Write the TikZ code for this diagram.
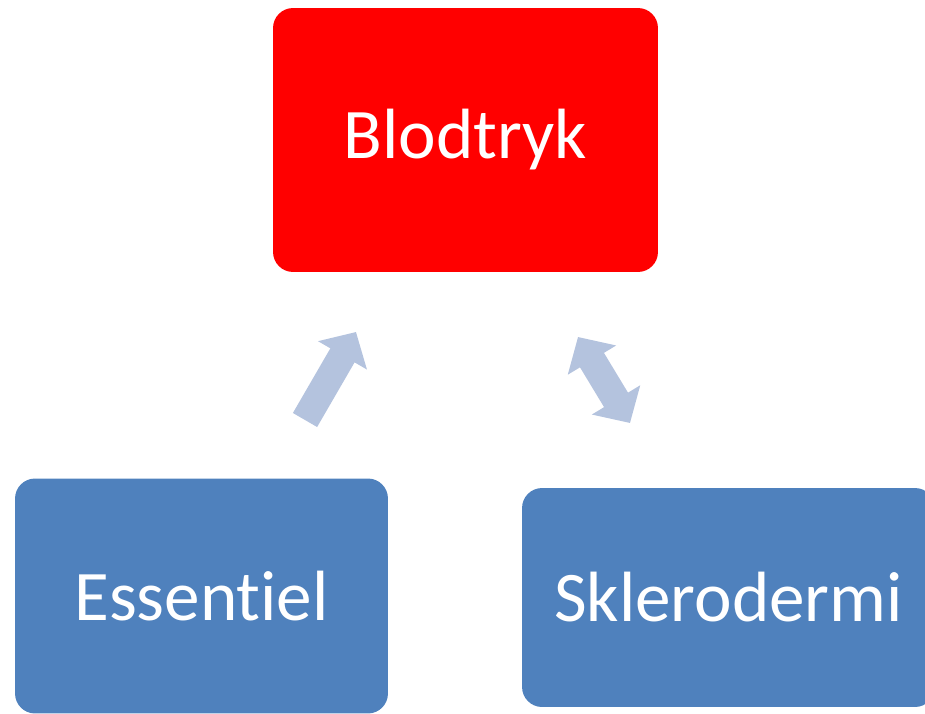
\documentclass[tikz,border=0pt]{standalone}
\usepackage{fontspec}
\setmainfont{Carlito}[Ligatures=NoCommon]
\usepackage{tikz}
\usetikzlibrary{arrows.meta,calc,positioning}
\usepackage{xcolor}

\definecolor{boxred}{RGB}{255,0,0}
\definecolor{boxblue}{RGB}{79,129,189}
\definecolor{arrowblue}{RGB}{180,195,222}

\tikzset{
  causebox/.style={rectangle, rounded corners=0.4cm, draw=none, text=white,
    font=\fontsize{40.5}{49}\selectfont, inner sep=0pt},
  blockarrow/.style={draw=arrowblue, line width=0.56cm,
    -{Triangle[length=0.54cm, width=1.1cm]}},
  blockarrows/.style={draw=arrowblue, line width=0.56cm,
    {Triangle[length=0.54cm, width=1.1cm]}-{Triangle[length=0.54cm, width=1.1cm]}}
}

\begin{document}
\begin{tikzpicture}[x=0.02cm, y=-0.02cm]
  \useasboundingbox (0,0) rectangle (925,713);
  \clip (0,0) rectangle (925,713);

  % the three boxes
  \node[causebox, fill=boxred, minimum width=7.7cm, minimum height=5.28cm]
    (blodtryk) at (465.5,140) {Blodtryk};
  \node[causebox, fill=boxblue, minimum width=7.46cm, minimum height=4.7cm]
    (essentiel) at (201.5,596) {Essentiel};
  \node[causebox, fill=boxblue, minimum width=8.26cm, minimum height=4.38cm]
    (sklerodermi) at (728.5,597.5) {Sklerodermi};

  % arrows between them
  \coordinate (esstail) at (305,420);
  \coordinate (esstip) at (356,332);
  \coordinate (sklup) at (578,337);
  \coordinate (skldown) at (630,423);
  \draw[blockarrow] (esstail) -- (esstip);
  \draw[blockarrows] (sklup) -- (skldown);
\end{tikzpicture}
\end{document}
